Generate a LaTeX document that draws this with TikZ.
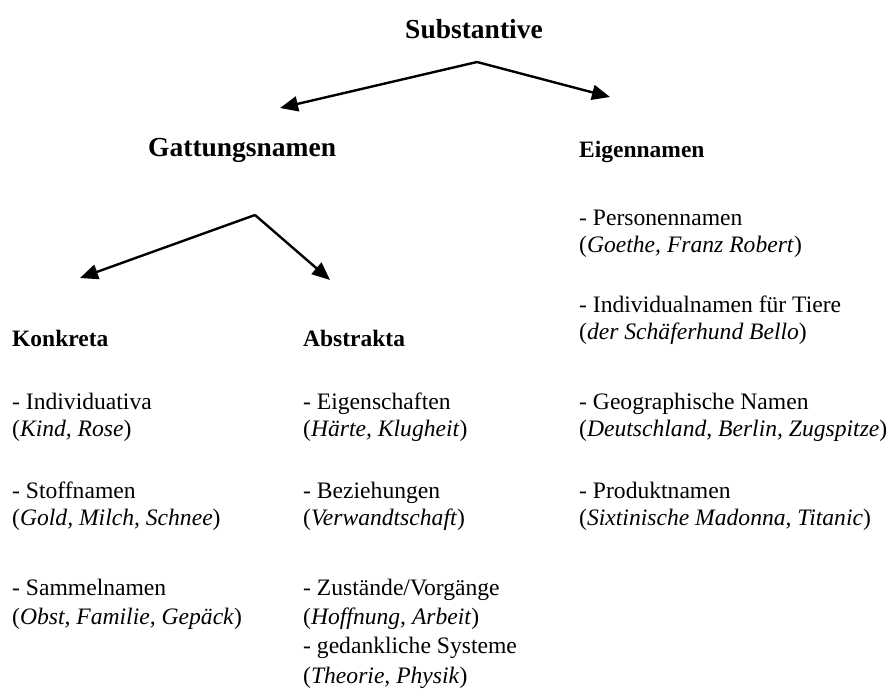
\documentclass[tikz,border=0pt]{standalone}
\usepackage{fontspec}
\setmainfont{Liberation Serif}
\usetikzlibrary{arrows.meta}
\tikzset{
  txt/.style={anchor=base west, inner sep=0pt, font=\fontsize{23.6}{28}\selectfont},
  head/.style={anchor=base west, inner sep=0pt, font=\bfseries\fontsize{23.5}{27}\selectfont},
  bighead/.style={anchor=base west, inner sep=0pt, font=\bfseries\fontsize{27.5}{32}\selectfont},
  arr/.style={line width=2.4pt, -{Triangle[length=18pt,width=15pt]}}
}
\begin{document}
\begin{tikzpicture}[x=1pt,y=-1pt]
\useasboundingbox[fill=white] (0,0) rectangle (890,700);
% headers
\node[bighead, anchor=base] (subst) at (474,39) {Substantive};
\node[bighead] (gatt) at (148,157) {Gattungsnamen};
\node[head] (eigen) at (579,158) {Eigennamen};
\node[head] (konk) at (12,346) {Konkreta};
\node[head] (abst) at (303,346) {Abstrakta};
% arrows
\coordinate (apex1) at (477,62);
\coordinate (end1l) at (280,108);
\coordinate (end1r) at (610,97);
\coordinate (apex2) at (255,215);
\coordinate (end2l) at (80,278);
\coordinate (end2r) at (330,280);
\draw[arr] (apex1) -- (end1l);
\draw[arr] (apex1) -- (end1r);
\draw[arr] (apex2) -- (end2l);
\draw[arr] (apex2) -- (end2r);
% Konkreta
\node[txt] (k1) at (12,409) {- Individuativa};
\node[txt] (k1e) at (12,436) {(\textit{Kind, Rose})};
\node[txt] (k2) at (12,498) {- Stoffnamen};
\node[txt] (k2e) at (12,525) {(\textit{Gold, Milch, Schnee})};
\node[txt] (k3) at (12,595) {- Sammelnamen};
\node[txt] (k3e) at (12,624) {(\textit{Obst, Familie, Gepäck})};
% Abstrakta
\node[txt] (a1) at (303,409) {- Eigenschaften};
\node[txt] (a1e) at (303,436) {(\textit{Härte, Klugheit})};
\node[txt] (a2) at (303,498) {- Beziehungen};
\node[txt] (a2e) at (303,525) {(\textit{Verwandtschaft})};
\node[txt] (a3) at (303,595) {- Zustände/Vorgänge};
\node[txt] (a3e) at (303,624) {(\textit{Hoffnung, Arbeit})};
\node[txt] (a4) at (303,653) {- gedankliche Systeme};
\node[txt] (a4e) at (303,683) {(\textit{Theorie, Physik})};
% Eigennamen
\node[txt] (e1) at (579,226) {- Personennamen};
\node[txt] (e1e) at (579,253) {(\textit{Goethe, Franz Robert})};
\node[txt] (e2) at (579,312) {- Individualnamen für Tiere};
\node[txt] (e2e) at (579,339) {(\textit{der Schäferhund Bello})};
\node[txt] (e3) at (579,409) {- Geographische Namen};
\node[txt] (e3e) at (579,436) {(\textit{Deutschland, Berlin, Zugspitze})};
\node[txt] (e4) at (579,498) {- Produktnamen};
\node[txt] (e4e) at (579,525) {(\textit{Sixtinische Madonna, Titanic})};
\end{tikzpicture}
\end{document}
